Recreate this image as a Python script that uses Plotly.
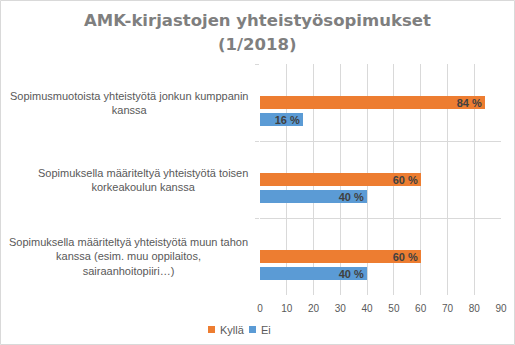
import plotly.graph_objects as go

# Survey categories (top to bottom) and shares in percent
categories = [
    "Sopimusmuotoista yhteistyötä jonkun kumppanin<br>kanssa",
    "Sopimuksella määriteltyä yhteistyötä toisen<br>korkeakoulun kanssa",
    "Sopimuksella määriteltyä yhteistyötä muun tahon<br>kanssa (esim. muu oppilaitos,<br>sairaanhoitopiiri…)",
]
kylla = [84, 60, 60]
ei = [16, 40, 40]
series_names = ["Kyllä", "Ei"]
x_ticks = [0, 10, 20, 30, 40, 50, 60, 70, 80, 90]
title_lines = ["AMK-kirjastojen yhteistyösopimukset", "(1/2018)"]

ORANGE = "#ED7D31"
BLUE = "#5B9BD5"
GRID = "#D9D9D9"
TEXT = "#595959"
FONT = "Liberation Sans"

W, H = 515, 345
L, R, T, B = 260, 14, 64, 50
pw, ph = W - L - R, H - T - B


def px_x(px):
    """Figure pixel column -> paper x."""
    return (px - L) / pw


def px_y(py):
    """Figure pixel row -> paper y."""
    return (T + ph - py) / ph


fig = go.Figure()
colors = [ORANGE, BLUE]
for name, vals, color, off in [
    (series_names[0], kylla, ORANGE, -0.085),
    (series_names[1], ei, BLUE, 0.13),
]:
    fig.add_trace(go.Bar(
        y=categories, x=vals, name=name, orientation="h",
        marker=dict(color=color, line=dict(width=0)),
        offset=off, width=0.175,
        text=[f"{v} %" for v in vals],
        textposition="inside", insidetextanchor="end",
        textfont=dict(family=FONT, size=11, color="#404040", weight="bold"),
        cliponaxis=False, showlegend=False,
    ))

# Category labels as centred multi-line annotations
for c in categories:
    fig.add_annotation(
        x=0, xref="paper", y=c, yref="y", xanchor="right", xshift=-10,
        text=c, showarrow=False, align="center",
        font=dict(family=FONT, size=11, color=TEXT),
    )

# Two-line chart title
for line, cy in zip(title_lines, [20, 44]):
    fig.add_annotation(
        x=0.5, xref="paper", y=px_y(cy), yref="paper",
        xanchor="center", yanchor="middle", xshift=(W / 2 - (L + pw / 2)),
        text=f"<b>{line}</b>", showarrow=False,
        font=dict(family="DejaVu Sans", size=16.5, color="#7F7F7F"),
    )

# Legend: small squares followed by series names
legend_pos = [(208, 218), (249, 259)]
for name, color, (sq, tx) in zip(series_names, colors, legend_pos):
    fig.add_shape(
        type="rect", xref="paper", yref="paper",
        x0=px_x(sq), x1=px_x(sq + 7), y0=px_y(333), y1=px_y(326),
        fillcolor=color, line=dict(width=0),
    )
    fig.add_annotation(
        x=px_x(tx), xref="paper", y=px_y(330), yref="paper",
        xanchor="left", yanchor="middle", text=name, showarrow=False,
        font=dict(family=FONT, size=11, color=TEXT),
    )

# Light border around the whole chart
fig.add_shape(
    type="rect", xref="paper", yref="paper",
    x0=px_x(0.5), x1=px_x(W - 0.5), y0=px_y(H - 0.5), y1=px_y(0.5),
    line=dict(color=GRID, width=1), layer="below",
)

fig.update_layout(
    width=W, height=H,
    margin=dict(l=L, r=R, t=T, b=B, autoexpand=False),
    paper_bgcolor="white", plot_bgcolor="white",
    showlegend=False,
    uniformtext=dict(minsize=11, mode="show"),
    bargap=0,
)

fig.update_xaxes(
    range=[0, 90], tickvals=x_ticks, ticks="",
    showgrid=True, gridcolor=GRID, gridwidth=1,
    zeroline=False, showline=False,
    tickfont=dict(family=FONT, size=10, color=TEXT),
    ticklabelstandoff=6,
    fixedrange=True,
)
fig.update_yaxes(
    categoryorder="array", categoryarray=categories, autorange="reversed",
    showticklabels=False, tickson="boundaries", ticks="outside",
    ticklen=4, tickcolor=GRID,
    showgrid=True, gridcolor=GRID, gridwidth=1,
    showline=False, zeroline=False,
)

fig.write_html("out.html")
